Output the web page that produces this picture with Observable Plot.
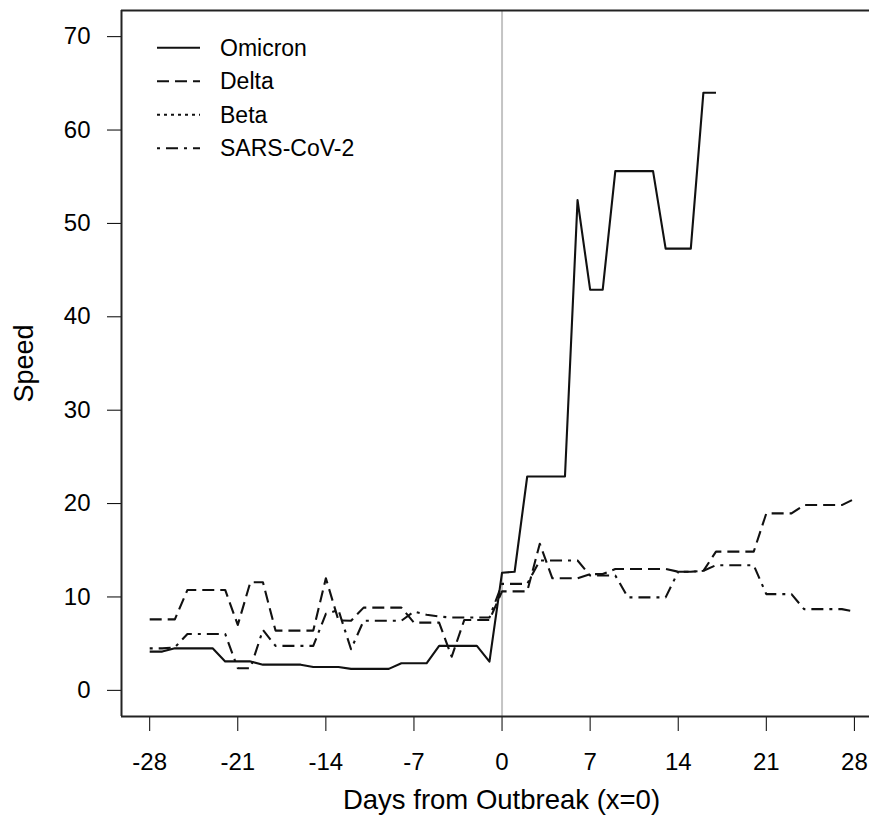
<!DOCTYPE html>
<html>
<head>
<meta charset="utf-8">
<script src="https://cdn.jsdelivr.net/npm/d3@7"></script>
<script src="https://cdn.jsdelivr.net/npm/@observablehq/plot@0.6"></script>
<style>
  html, body { margin: 0; padding: 0; background: #fff; }
  #chart { position: relative; width: 869px; height: 834px; font-family: "Liberation Sans", Arial, sans-serif; }
  #legend { position: absolute; left: 0; top: 0; pointer-events: none; }
</style>
</head>
<body>
<div id="chart"></div>
<script>
// Days relative to the outbreak (x = 0)
const days = [-28, -27, -26, -25, -24, -23, -22, -21, -20, -19, -18, -17, -16, -15,
  -14, -13, -12, -11, -10, -9, -8, -7, -6, -5, -4, -3, -2, -1, 0,
  1, 2, 3, 4, 5, 6, 7, 8, 9, 10, 11, 12, 13, 14,
  15, 16, 17, 18, 19, 20, 21, 22, 23, 24, 25, 26, 27, 28];

// Omicron is observed up to day 17
const omicronDays = days.slice(0, 46);
const omicron = [4.15, 4.15, 4.5, 4.5, 4.5, 4.5, 3.1, 3.1, 3.1, 2.75, 2.75, 2.75, 2.75, 2.5,
  2.5, 2.5, 2.3, 2.3, 2.3, 2.3, 2.9, 2.9, 2.9, 4.76, 4.76, 4.76, 4.76, 3.08, 12.6,
  12.7, 22.9, 22.9, 22.9, 22.9, 52.5, 42.9, 42.9, 55.6, 55.6, 55.6, 55.6, 47.3, 47.3,
  47.3, 64.0, 64.0];

const delta = [7.6, 7.6, 7.6, 10.75, 10.75, 10.75, 10.75, 7.0, 11.57, 11.57, 6.4, 6.4, 6.4, 6.4,
  12.0, 7.5, 7.45, 8.86, 8.86, 8.86, 8.86, 7.25, 7.25, 7.25, 3.6, 7.54, 7.54, 7.54, 10.6,
  10.6, 10.6, 15.7, 12.0, 12.0, 12.0, 12.45, 12.45, 13.0, 13.0, 13.0, 13.0, 13.0, 12.7,
  12.7, 12.8, 14.85, 14.85, 14.85, 14.85, 18.95, 18.95, 18.95, 19.84, 19.84, 19.84, 19.84, 20.5];

// Beta has no values inside this window
const betaDays = [];
const beta = [];

const sarsCoV2 = [4.5, 4.5, 4.6, 6.04, 6.04, 6.04, 6.04, 2.37, 2.37, 6.47, 4.76, 4.76, 4.76, 4.76,
  8.2, 8.6, 4.4, 7.45, 7.45, 7.45, 7.45, 8.43, 8.1, 7.9, 7.8, 7.8, 7.8, 7.8, 11.4,
  11.4, 11.4, 13.9, 13.9, 13.9, 13.9, 12.3, 12.3, 12.3, 9.96, 9.96, 9.96, 9.96, 12.7,
  12.7, 12.8, 13.4, 13.4, 13.4, 13.4, 10.3, 10.3, 10.3, 8.7, 8.7, 8.7, 8.7, 8.45];

const xTicks = [-28, -21, -14, -7, 0, 7, 14, 21, 28];
const yTicks = [0, 10, 20, 30, 40, 50, 60, 70];

const seriesNames = ["Omicron", "Delta", "Beta", "SARS-CoV-2"];

// Line styles per series
const dashFor = {
  "Omicron": null,
  "Delta": "12,6",
  "Beta": "3,4",
  "SARS-CoV-2": "3,6,12,6"
};

const seriesData = [
  {name: "Omicron", x: omicronDays, y: omicron},
  {name: "Delta", x: days, y: delta},
  {name: "Beta", x: betaDays, y: beta},
  {name: "SARS-CoV-2", x: days, y: sarsCoV2}
].map(s => ({name: s.name, rows: s.x.map((d, i) => ({day: d, speed: s.y[i]}))}));

const ink = "#111";
const xDomain = [-30.24, 29.2];
const yDomain = [-2.8, 72.8];

const lineMarks = seriesData.map(s => Plot.line(s.rows, {
  x: "day", y: "speed",
  stroke: ink, strokeWidth: 2.1,
  strokeDasharray: dashFor[s.name] || undefined,
  strokeLinejoin: "round", strokeLinecap: "butt"
}));

const chart = Plot.plot({
  width: 869,
  height: 834,
  marginLeft: 121,
  marginRight: 0,
  marginTop: 10,
  marginBottom: 118,
  style: {fontFamily: "'Liberation Sans', Arial, sans-serif", fontSize: "24px", color: "#000", background: "#fff"},
  x: {domain: xDomain, ticks: xTicks, tickSize: 15, tickPadding: 21, label: null, tickFormat: d => String(d)},
  y: {domain: yDomain, ticks: yTicks, tickSize: 14, tickPadding: 17, label: null, tickFormat: d => String(d)},
  marks: [
    Plot.ruleX([0], {stroke: "#c4c4c4", strokeWidth: 2}),
    ...lineMarks,
    // box: top, bottom and left edges of the plotting region
    Plot.ruleY([yDomain[1]], {stroke: "#222", strokeWidth: 2}),
    Plot.ruleY([yDomain[0]], {stroke: "#222", strokeWidth: 2}),
    Plot.ruleX([xDomain[0]], {stroke: "#222", strokeWidth: 2}),
    Plot.text(["Days from Outbreak (x=0)"], {
      text: d => d, frameAnchor: "bottom", textAnchor: "middle", lineAnchor: "middle",
      dx: 6, dy: 84, fontSize: 27.5, fill: "#000"
    }),
    Plot.text(["Speed"], {
      text: d => d, frameAnchor: "left", textAnchor: "middle", lineAnchor: "middle",
      dx: -97, rotate: -90, fontSize: 27, fill: "#000"
    })
  ]
});

const root = document.getElementById("chart");
root.appendChild(chart);

// Legend in the upper-left corner of the plotting region
const legend = d3.select(root).append("svg")
  .attr("id", "legend")
  .attr("width", 400)
  .attr("height", 180);

const rowY = d3.scaleBand().domain(seriesNames).range([31, 165]);
const item = legend.selectAll("g").data(seriesNames).join("g")
  .attr("transform", d => `translate(0,${rowY(d) + rowY.bandwidth() / 2})`);

item.append("line")
  .attr("x1", 157).attr("x2", 200)
  .attr("stroke", ink).attr("stroke-width", 2.1)
  .attr("stroke-dasharray", d => dashFor[d] || null);

item.append("text")
  .attr("x", 220).attr("y", 2)
  .attr("dominant-baseline", "middle")
  .attr("font-family", "'Liberation Sans', Arial, sans-serif")
  .attr("font-size", 23)
  .attr("fill", "#000")
  .text(d => d);
</script>
</body>
</html>
